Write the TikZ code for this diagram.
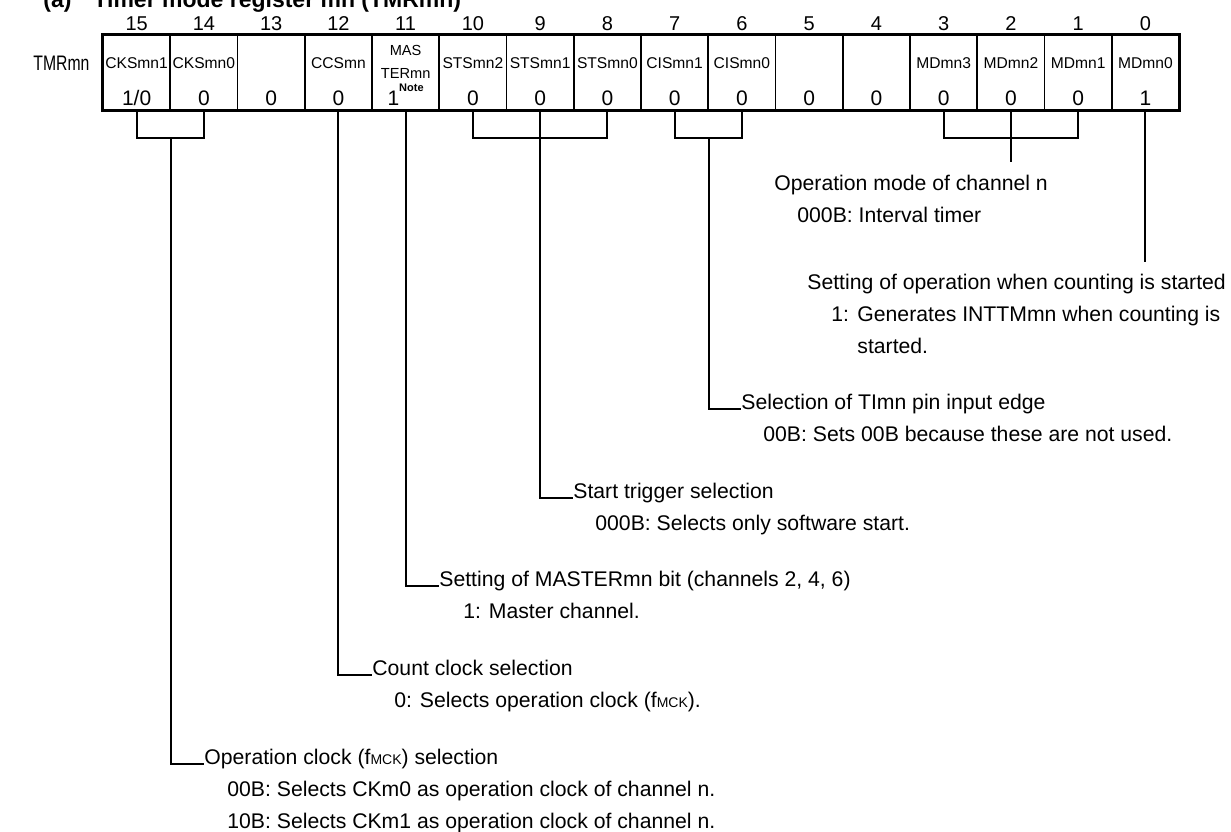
\documentclass[tikz,border=0pt]{standalone}
\usepackage{fontspec}
\setmainfont{Liberation Sans}
\usepackage{graphicx}
\usetikzlibrary{positioning,calc}
\newcommand{\mck}{{\fontsize{7}{8}\selectfont MCK}}

\begin{document}
\begin{tikzpicture}[
  x=0.5pt, y=-0.5pt,
  every node/.style={font=\fontsize{10.6}{12}\selectfont, inner sep=0pt},
  cell/.style={draw, line width=0.85pt, minimum width=33.625pt, minimum height=37.5pt},
  frame/.style={draw, line width=1.4pt},
  wire/.style={draw, line width=0.95pt},
  bitno/.style={anchor=base, font=\fontsize{10}{12}\selectfont},
  field/.style={anchor=base, font=\fontsize{7.8}{9}\selectfont},
  val/.style={anchor=base, font=\fontsize{10.5}{12}\selectfont},
  txt/.style={anchor=base west}
]
\useasboundingbox (0,0) rectangle (1231,831);
\node[anchor=base west, font=\bfseries\fontsize{11.5}{13}\selectfont] (title) at (43,7)
  {(a)\hspace{11pt}Timer mode register mn (TMRmn)};
\node[anchor=base west] (reg) at (33,70) {\scalebox{0.75}[1]{\fontsize{10.5}{12}\selectfont TMRmn}};
\foreach \i in {0,...,15} {
  \node[cell] (b\i) at ({103+(15.5-\i)*67.25},72.5) {};
  \node[bitno] (n\i) at (b\i |- 0,30) {\i};
}
\draw[frame] (b15.north west) rectangle (b0.south east);
\foreach \i/\fn/\bv in {15/CKSmn1/{1/0}, 14/CKSmn0/0, 13/{}/0, 12/CCSmn/0,
    10/STSmn2/0, 9/STSmn1/0, 8/STSmn0/0, 7/CISmn1/0, 6/CISmn0/0, 5/{}/0, 4/{}/0,
    3/MDmn3/0, 2/MDmn2/0, 1/MDmn1/0, 0/MDmn0/1} {
  \node[field] (f\i) at (b\i |- 0,68) {\fn};
  \node[val] (v\i) at (b\i |- 0,105) {\bv};
}
\node[field, font=\fontsize{7.3}{8}\selectfont] (f11) at (b11 |- 0,55) {MAS};
\node[field, font=\fontsize{7.3}{8}\selectfont] (f11b) at (b11 |- 0,78) {TERmn};
\node[val] (v11) at (b11 |- 0,105) {1\raisebox{7pt}{\fontsize{5.5}{6}\bfseries\selectfont Note}};

\node[txt] (md)   at (774,190) {Operation mode of channel n};
\node[txt] (md1)  at (797,222) {000B: Interval timer};
\node[txt] (cnt)  at (807,289) {Setting of operation when counting is started};
\node[txt] (cnt1) at (831,321) {1:};
\node[txt] (cnt2) at (857,321) {Generates INTTMmn when counting is};
\node[txt] (cnt3) at (857,353) {started.};
\node[txt] (cis)  at (741,409) {Selection of TImn pin input edge};
\node[txt] (cis1) at (763,441) {00B: Sets 00B because these are not used.};
\node[txt] (sts)  at (573,498) {Start trigger selection};
\node[txt] (sts1) at (595,530) {000B: Selects only software start.};
\node[txt] (mas)  at (439,586) {Setting of MASTERmn bit (channels 2, 4, 6)};
\node[txt] (mas1) at (463,618) {1: Master channel.};
\node[txt] (ccs)  at (372,675) {Count clock selection};
\node[txt] (ccs1) at (394,707) {0: Selects operation clock (f\mck).};
\node[txt] (cks)  at (204,764) {Operation clock (f\mck) selection};
\node[txt] (cks1) at (227,796) {00B: Selects CKm0 as operation clock of channel n.};
\node[txt] (cks2) at (227,828) {10B: Selects CKm1 as operation clock of channel n.};

\path (b15.south east) ++(0,27) coordinate (ckj);
\path (b9.south) ++(0,27) coordinate (stsj);
\path (b7.south east) ++(0,27) coordinate (cisj);
\path (b2.south) ++(0,27) coordinate (mdj);
\coordinate (mdend) at (b2 |- 0,162);
\coordinate (cntend) at (b0 |- 0,262);

\draw[wire] (b15.south) |- (ckj) -| (b14.south);
\draw[wire] (ckj) |- (cks.base west);
\draw[wire] (b12.south) |- (ccs.base west);
\draw[wire] (b11.south) |- (mas.base west);
\draw[wire] (b10.south) |- (stsj) -| (b8.south);
\draw[wire] (b9.south) |- (sts.base west);
\draw[wire] (b7.south) |- (cisj) -| (b6.south);
\draw[wire] (cisj) |- (cis.base west);
\draw[wire] (b3.south) |- (mdj) -| (b1.south);
\draw[wire] (b2.south) -- (mdend);
\draw[wire] (b0.south) -- (cntend);
\end{tikzpicture}
\end{document}
